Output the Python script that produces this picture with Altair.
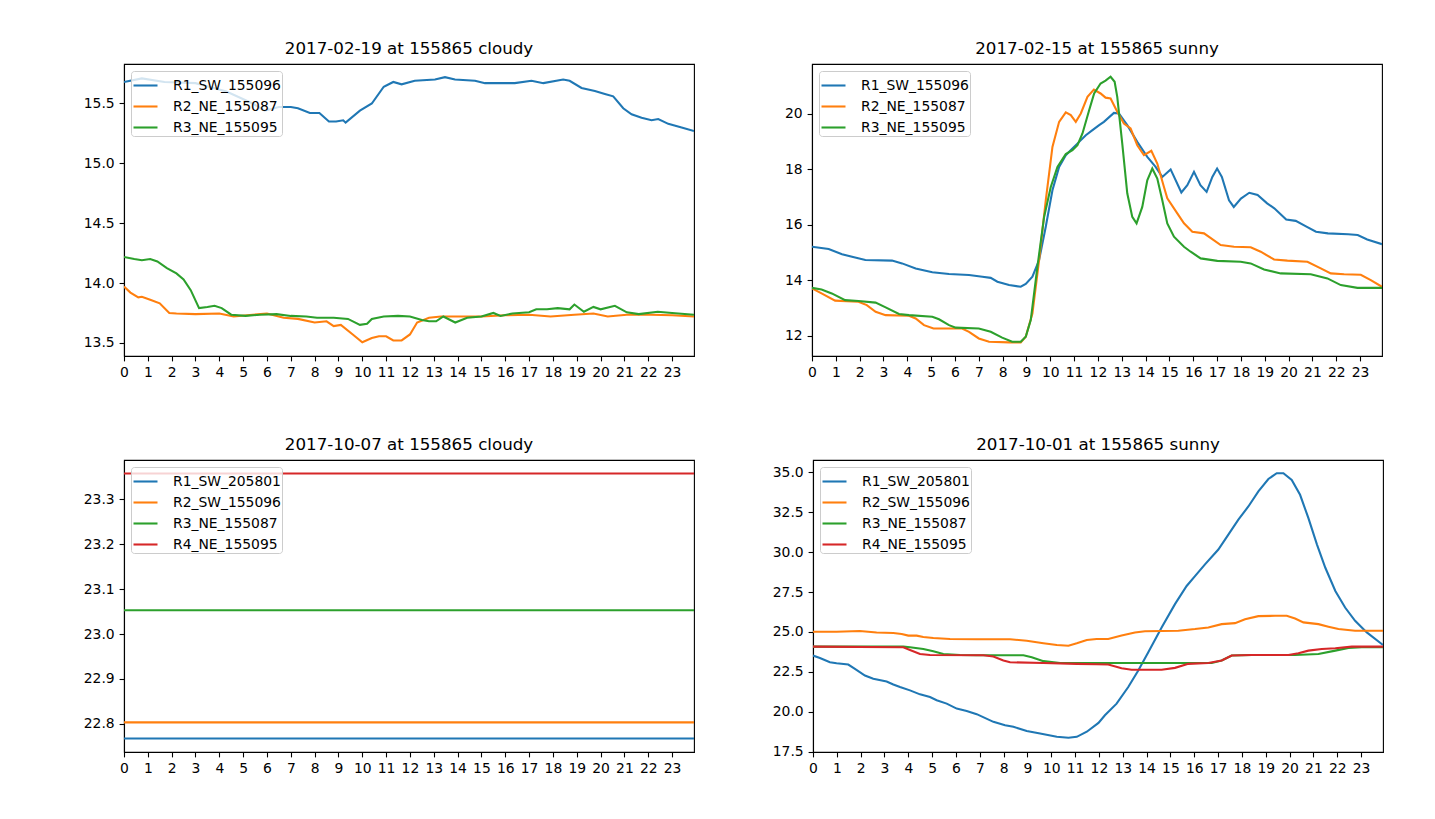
import altair as alt
import pandas as pd

COLORS = ["#1f77b4", "#ff7f0e", "#2ca02c", "#d62728"]

# ---------------- top-left: 2017-02-19 cloudy ----------------
tl_names = ["R1_SW_155096", "R2_NE_155087", "R3_NE_155095"]
tl_r1_h = [0, 0.75, 1.7, 3, 4.3, 5.4, 5.9, 6.5, 7.0, 7.3, 7.8, 8.2, 8.6, 8.9, 9.2, 9.3, 9.9, 10.4, 10.9, 11.3, 11.65,
           12.2, 13.05, 13.47, 13.89, 14.73, 15.15, 16.4, 17.1, 17.6, 18.43, 18.7, 19.2, 19.76, 20.18, 20.53, 20.95,
           21.3, 21.72, 22.14, 22.42, 22.84, 23.4, 23.92]
tl_r1_v = [15.68, 15.71, 15.68, 15.67, 15.60, 15.50, 15.44, 15.47, 15.47, 15.46, 15.42, 15.42, 15.35, 15.35, 15.36,
           15.34, 15.44, 15.50, 15.64, 15.68, 15.66, 15.69, 15.70, 15.72, 15.70, 15.69, 15.67, 15.67, 15.69, 15.67,
           15.70, 15.69, 15.63, 15.605, 15.58, 15.56, 15.46, 15.41, 15.38, 15.36, 15.37, 15.33, 15.30, 15.27]
tl_r2_h = [0, 0.27, 0.6, 0.75, 1.1, 1.5, 1.9, 2.2, 3.0, 4.0, 4.6, 5.4, 6.0, 6.7, 7.3, 8.0, 8.5, 8.8, 9.1, 9.6, 10.0,
           10.4, 10.7, 11.0, 11.3, 11.65, 12.0, 12.3, 12.8, 13.3, 13.9, 14.4, 15.0, 16.0, 17.0, 17.9, 18.9, 19.7,
           20.3, 21.1, 22.1, 23.0, 23.92]
tl_r2_v = [13.97, 13.92, 13.88, 13.885, 13.86, 13.83, 13.75, 13.745, 13.74, 13.745, 13.72, 13.735, 13.745, 13.71,
           13.70, 13.67, 13.68, 13.64, 13.65, 13.57, 13.505, 13.54, 13.555, 13.555, 13.52, 13.52, 13.57, 13.67, 13.71,
           13.72, 13.72, 13.72, 13.72, 13.73, 13.735, 13.72, 13.735, 13.745, 13.72, 13.735, 13.735, 13.73, 13.72]
tl_r3_h = [0, 0.43, 0.75, 1.1, 1.4, 1.8, 2.2, 2.5, 2.8, 3.15, 3.5, 3.8, 4.1, 4.5, 5.1, 5.7, 6.4, 7.0, 7.65, 8.1, 8.8,
           9.4, 9.9, 10.2, 10.4, 10.9, 11.5, 12.0, 12.5, 12.8, 13.1, 13.4, 13.9, 14.4, 15.0, 15.5, 15.8, 16.3, 17.0,
           17.3, 17.75, 18.2, 18.7, 18.9, 19.3, 19.7, 20.0, 20.6, 21.1, 21.6, 22.4, 23.0, 23.92]
tl_r3_v = [14.217, 14.20, 14.19, 14.20, 14.18, 14.125, 14.08, 14.03, 13.94, 13.79, 13.80, 13.81, 13.79, 13.735,
           13.725, 13.735, 13.74, 13.725, 13.72, 13.71, 13.71, 13.70, 13.65, 13.66, 13.70, 13.72, 13.725, 13.72,
           13.69, 13.68, 13.68, 13.72, 13.67, 13.71, 13.72, 13.75, 13.725, 13.745, 13.755, 13.78, 13.78, 13.79,
           13.78, 13.82, 13.76, 13.80, 13.78, 13.81, 13.755, 13.74, 13.76, 13.75, 13.735]

# ---------------- top-right: 2017-02-15 sunny ----------------
tr_names = ["R1_SW_155096", "R2_NE_155087", "R3_NE_155095"]
tr_r1_h = [0, 0.7, 1.26, 1.68, 2.24, 3.36, 3.78, 4.35, 5.05, 5.75, 6.59, 7.15, 7.5, 7.78, 8.27, 8.76, 8.97, 9.25,
           9.53, 9.81, 10.09, 10.37, 10.65, 10.93, 11.21, 11.49, 11.77, 12.05, 12.25, 12.67, 12.88, 13.23, 13.65,
           14.07, 14.42, 14.7, 15.05, 15.5, 15.75, 16.03, 16.3, 16.56, 16.8, 17.0, 17.2, 17.5, 17.7, 18.0, 18.35,
           18.7, 19.1, 19.4, 19.9, 20.3, 20.75, 21.15, 21.65, 22.5, 22.9, 23.3, 23.92]
tr_r1_v = [15.21, 15.13, 14.94, 14.85, 14.73, 14.71, 14.61, 14.43, 14.29, 14.23, 14.19, 14.13, 14.09, 13.95, 13.83,
           13.77, 13.87, 14.13, 14.73, 15.93, 17.24, 18.08, 18.50, 18.74, 18.98, 19.22, 19.40, 19.58, 19.70, 20.02,
           20.0, 19.58, 18.98, 18.44, 18.08, 17.72, 17.99, 17.16, 17.42, 17.90, 17.42, 17.18, 17.72, 18.02, 17.72,
           16.88, 16.64, 16.94, 17.15, 17.07, 16.77, 16.59, 16.19, 16.14, 15.93, 15.75, 15.69, 15.66, 15.63, 15.47,
           15.30]
tr_r2_h = [0, 0.4, 0.97, 1.95, 2.3, 2.67, 3.09, 4.07, 4.35, 4.7, 5.1, 6.3, 6.59, 7.0, 7.43, 8.27, 8.76, 8.97, 9.25,
           9.53, 9.81, 10.09, 10.37, 10.65, 10.86, 11.07, 11.28, 11.56, 11.83, 12.11, 12.32, 12.53, 12.81, 13.09,
           13.37, 13.65, 13.93, 14.24, 14.49, 14.77, 14.91, 15.33, 15.61, 15.96, 16.45, 17.15, 17.71, 18.41, 18.83,
           19.39, 19.95, 20.79, 21.35, 21.77, 22.33, 23.03, 23.45, 23.92]
tr_r2_v = [13.71, 13.53, 13.27, 13.23, 13.11, 12.87, 12.75, 12.73, 12.63, 12.39, 12.27, 12.27, 12.15, 11.91, 11.79,
           11.77, 11.77, 11.97, 12.81, 14.73, 16.88, 18.80, 19.70, 20.04, 19.94, 19.70, 20.0, 20.60, 20.86, 20.72,
           20.57, 20.54, 20.06, 19.64, 19.46, 18.86, 18.50, 18.66, 18.20, 17.36, 16.95, 16.41, 16.05, 15.75, 15.69,
           15.27, 15.21, 15.19, 15.03, 14.75, 14.71, 14.67, 14.43, 14.25, 14.22, 14.20, 14.01, 13.77]
tr_r3_h = [0, 0.4, 0.83, 1.39, 1.95, 2.67, 3.09, 3.65, 4.07, 5.05, 5.33, 5.75, 6.03, 7.0, 7.5, 7.98, 8.4, 8.76, 8.97,
           9.18, 9.46, 9.74, 10.02, 10.3, 10.65, 10.93, 11.14, 11.35, 11.63, 11.84, 12.11, 12.32, 12.53, 12.7, 12.81,
           13.02, 13.23, 13.44, 13.62, 13.86, 14.07, 14.28, 14.49, 14.7, 14.91, 15.19, 15.61, 15.89, 16.31, 17.01,
           17.99, 18.41, 18.97, 19.67, 20.93, 21.63, 22.19, 22.89, 23.92]
tr_r3_v = [13.73, 13.67, 13.53, 13.29, 13.26, 13.20, 13.03, 12.79, 12.75, 12.69, 12.60, 12.39, 12.30, 12.27, 12.15,
           11.94, 11.79, 11.79, 11.97, 12.57, 14.49, 16.28, 17.36, 18.08, 18.54, 18.68, 18.86, 19.28, 20.12, 20.72,
           21.08, 21.18, 21.32, 21.14, 20.60, 18.92, 17.13, 16.28, 16.05, 16.64, 17.60, 18.02, 17.66, 16.88, 16.05,
           15.57, 15.21, 15.03, 14.79, 14.70, 14.67, 14.61, 14.39, 14.25, 14.22, 14.07, 13.83, 13.73, 13.73]

# ---------------- bottom-left: 2017-10-07 cloudy (flat readings) ----------------
bl_names = ["R1_SW_205801", "R2_SW_155096", "R3_NE_155087", "R4_NE_155095"]
bl_h = [0, 23.92]
bl_r1_v = [22.767, 22.767]
bl_r2_v = [22.803, 22.803]
bl_r3_v = [23.053, 23.053]
bl_r4_v = [23.358, 23.358]

# ---------------- bottom-right: 2017-10-01 sunny ----------------
br_names = ["R1_SW_205801", "R2_SW_155096", "R3_NE_155087", "R4_NE_155095"]
br_r1_h = [0, 0.29, 0.71, 0.99, 1.48, 1.76, 2.18, 2.53, 3.09, 3.37, 3.65, 4.07, 4.49, 4.91, 5.19, 5.61, 6.03, 6.45,
           6.87, 7.57, 8.06, 8.41, 8.97, 9.53, 10.23, 10.72, 11.07, 11.49, 11.98, 12.25, 12.74, 13.23, 13.65, 14.07,
           14.63, 15.19, 15.68, 16.03, 16.45, 17.01, 17.43, 17.85, 18.27, 18.69, 19.11, 19.46, 19.74, 20.09, 20.44,
           20.79, 21.15, 21.5, 21.92, 22.33, 22.75, 23.24, 23.92]
br_r1_v = [23.52, 23.37, 23.10, 23.04, 22.96, 22.69, 22.27, 22.07, 21.90, 21.71, 21.55, 21.34, 21.09, 20.92, 20.72,
           20.51, 20.20, 20.05, 19.85, 19.37, 19.16, 19.06, 18.79, 18.64, 18.43, 18.37, 18.43, 18.75, 19.30, 19.78,
           20.51, 21.55, 22.59, 23.73, 25.28, 26.74, 27.88, 28.50, 29.23, 30.16, 31.10, 32.03, 32.86, 33.80, 34.58,
           34.94, 34.94, 34.52, 33.59, 32.13, 30.47, 29.02, 27.57, 26.53, 25.70, 24.97, 24.18]
br_r2_h = [0, 0.99, 1.96, 2.67, 3.37, 3.72, 4.0, 4.35, 4.63, 5.05, 5.75, 6.87, 8.27, 8.97, 9.67, 10.23, 10.72, 11.07,
           11.49, 11.9, 12.39, 12.95, 13.51, 13.93, 15.33, 16.03, 16.59, 17.15, 17.71, 18.13, 18.69, 19.39, 19.88,
           20.23, 20.58, 21.21, 21.63, 22.05, 22.75, 23.92]
br_r2_v = [25.01, 25.01, 25.06, 24.97, 24.93, 24.87, 24.77, 24.77, 24.68, 24.62, 24.56, 24.54, 24.54, 24.45, 24.29,
           24.18, 24.14, 24.29, 24.50, 24.56, 24.56, 24.77, 24.97, 25.04, 25.08, 25.18, 25.28, 25.49, 25.55, 25.80,
           25.99, 26.01, 26.01, 25.84, 25.60, 25.49, 25.33, 25.18, 25.08, 25.08]
br_r3_h = [0, 3.79, 4.07, 4.63, 5.05, 5.47, 6.17, 6.87, 8.83, 9.18, 9.67, 10.37, 16.73, 17.15, 17.57, 18.41, 20.23,
           21.21, 21.92, 22.47, 23.03, 23.92]
br_r3_v = [24.08, 24.08, 24.04, 23.93, 23.79, 23.62, 23.56, 23.54, 23.54, 23.42, 23.17, 23.06, 23.06, 23.21, 23.52,
           23.56, 23.56, 23.62, 23.83, 24.00, 24.04, 24.04]
br_r4_h = [0, 3.79, 4.07, 4.49, 4.91, 7.15, 7.57, 7.99, 8.27, 9.67, 11.07, 11.9, 12.39, 12.95, 13.37, 14.63, 15.19,
           15.75, 16.59, 17.15, 17.57, 18.41, 19.95, 20.37, 20.79, 21.35, 21.92, 22.61, 23.92]
br_r4_v = [24.08, 24.04, 23.87, 23.62, 23.56, 23.54, 23.46, 23.21, 23.10, 23.06, 23.00, 22.98, 22.96, 22.73, 22.63,
           22.63, 22.75, 23.00, 23.06, 23.21, 23.52, 23.56, 23.56, 23.66, 23.83, 23.93, 23.98, 24.08, 24.08]

HOURS = list(range(24))
X_MAX = 23.92
FONT = "DejaVu Sans"


def frame(names, series):
    rows = []
    for order, (name, (hs, vs)) in enumerate(zip(names, series)):
        for h, v in zip(hs, vs):
            rows.append({"h": h, "v": v, "s": name, "o": order})
    return pd.DataFrame(rows)


def panel(df, names, title, ydom, yticks, yfmt):
    return alt.Chart(df).mark_line(strokeWidth=2.08, clip=True).encode(
        x=alt.X("h:Q",
                scale=alt.Scale(domain=[0, X_MAX], nice=False, zero=False),
                axis=alt.Axis(values=HOURS, format="d", title=None, labelFlush=False,
                              labelOverlap=False, minExtent=25, maxExtent=25)),
        y=alt.Y("v:Q",
                scale=alt.Scale(domain=ydom, nice=False, zero=False),
                axis=alt.Axis(values=yticks, format=yfmt, title=None, labelOverlap=False,
                              minExtent=40, maxExtent=40)),
        color=alt.Color("s:N",
                        scale=alt.Scale(domain=names, range=COLORS[:len(names)]),
                        legend=alt.Legend(title=None, orient="none", legendX=7, legendY=7,
                                          symbolType="stroke", symbolSize=576, symbolStrokeWidth=2.08,
                                          labelFontSize=13.9, labelFont=FONT, labelColor="black",
                                          labelOffset=14, rowPadding=0, padding=1,
                                          strokeColor="#cccccc", fillColor="rgba(255,255,255,0.8)",
                                          cornerRadius=3)),
        order="o:Q",
    ).properties(width=570, height=292, title=title)


tl = panel(frame(tl_names, [(tl_r1_h, tl_r1_v), (tl_r2_h, tl_r2_v), (tl_r3_h, tl_r3_v)]), tl_names,
           "2017-02-19 at 155865 cloudy", [13.39, 15.83], [13.5, 14.0, 14.5, 15.0, 15.5], ".1f")
tr = panel(frame(tr_names, [(tr_r1_h, tr_r1_v), (tr_r2_h, tr_r2_v), (tr_r3_h, tr_r3_v)]), tr_names,
           "2017-02-15 at 155865 sunny", [11.28, 21.78], [12, 14, 16, 18, 20], "d")
bl = panel(frame(bl_names, [(bl_h, bl_r1_v), (bl_h, bl_r2_v), (bl_h, bl_r3_v), (bl_h, bl_r4_v)]), bl_names,
           "2017-10-07 at 155865 cloudy", [22.737, 23.388], [22.8, 22.9, 23.0, 23.1, 23.2, 23.3], ".1f")
br = panel(frame(br_names, [(br_r1_h, br_r1_v), (br_r2_h, br_r2_v), (br_r3_h, br_r3_v), (br_r4_h, br_r4_v)]),
           br_names, "2017-10-01 at 155865 sunny", [17.48, 35.77],
           [17.5, 20.0, 22.5, 25.0, 27.5, 30.0, 32.5, 35.0], ".1f")

top = alt.hconcat(tl, tr, spacing=76).resolve_scale(color="independent", x="independent", y="independent") \
    .resolve_legend(color="independent")
bottom = alt.hconcat(bl, br, spacing=76).resolve_scale(color="independent", x="independent", y="independent") \
    .resolve_legend(color="independent")

chart = alt.vconcat(top, bottom, spacing=54).resolve_scale(
    color="independent", x="independent", y="independent"
).resolve_legend(color="independent").properties(
    padding={"left": 74, "top": 32, "right": 0, "bottom": 0}
).configure(
    background="white",
).configure_view(
    stroke="black", strokeWidth=1.1
).configure_axis(
    labelFont=FONT, labelFontSize=13.9, labelColor="black",
    tickColor="black", tickWidth=1.1, tickSize=4.9, labelPadding=4.9,
    domainColor="black", domainWidth=1.1, grid=False,
).configure_title(
    font=FONT, fontSize=16.7, fontWeight="normal", color="black",
    anchor="middle", baseline="alphabetic", offset=6,
)

chart.save("out.html", embed_options={"renderer": "svg", "actions": False})
